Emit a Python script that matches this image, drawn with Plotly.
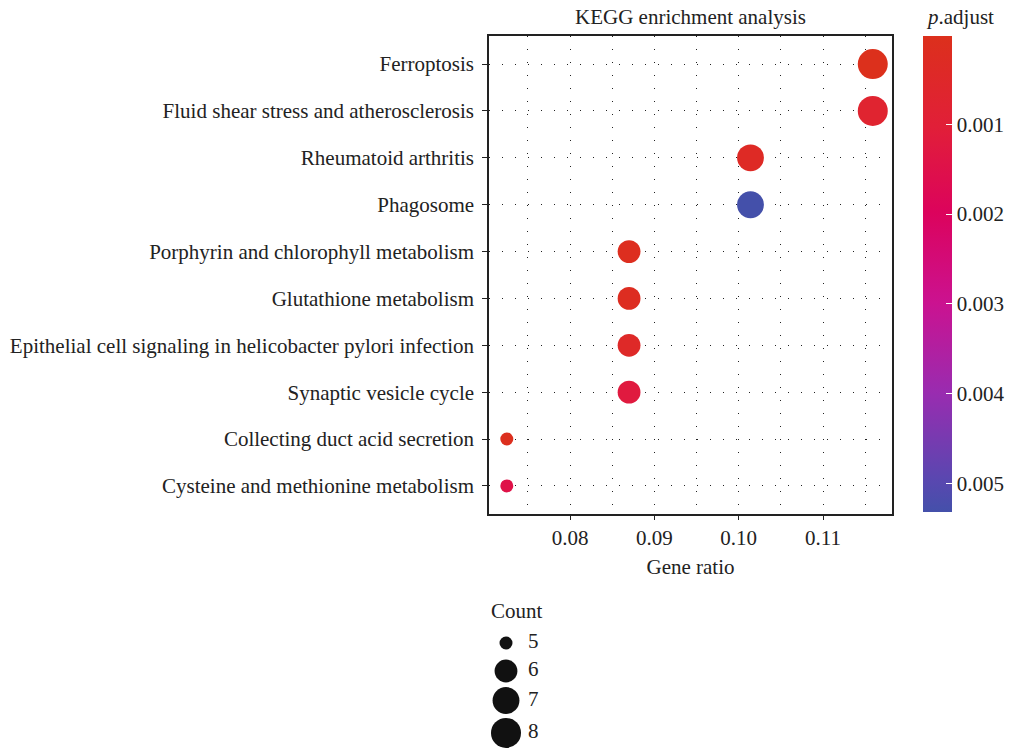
import numpy as np
import plotly.graph_objects as go

# KEGG pathway enrichment results
pathways = [
    "Ferroptosis",
    "Fluid shear stress and atherosclerosis",
    "Rheumatoid arthritis",
    "Phagosome",
    "Porphyrin and chlorophyll metabolism",
    "Glutathione metabolism",
    "Epithelial cell signaling in helicobacter pylori infection",
    "Synaptic vesicle cycle",
    "Collecting duct acid secretion",
    "Cysteine and methionine metabolism",
]
gene_count = [8, 8, 7, 7, 6, 6, 6, 6, 5, 5]
gene_ratio = [0.1159, 0.1159, 0.1014, 0.1014, 0.0870, 0.0870, 0.0870, 0.0870, 0.0725, 0.0725]
p_adjust = [0.000015, 0.00075, 0.00035, 0.00532, 0.00012, 0.00020, 0.00045, 0.00120, 0.00010, 0.00145]

count_levels = [5, 6, 7, 8]
x_ticks = [0.08, 0.09, 0.10, 0.11]
cbar_ticks = [0.001, 0.002, 0.003, 0.004, 0.005]

W, H = 1011, 752
FONT = "Liberation Serif"
FS = 21
INK = "#222222"

# area-style size scale (diameter in px)
D_MIN, D_MAX = 13.0, 30.0
c_lo, c_hi = min(count_levels), max(count_levels)


def diam(c):
    return D_MIN + (D_MAX - D_MIN) * np.sqrt((c - c_lo) / (c_hi - c_lo))


# small p-values are red, large ones blue; the colour bar runs with the
# smallest value at the top, so colours are keyed on the negated p-value
colorscale = [
    [0.00, "#4450AA"],
    [0.07, "#5A47B0"],
    [0.25, "#992CB0"],
    [0.44, "#CB1290"],
    [0.63, "#DC035C"],
    [0.81, "#E11F38"],
    [1.00, "#DC301C"],
]
neg_p = [-v for v in p_adjust]

# panel placement in pixels
px_l, px_r, px_t, px_b = 489, 892, 36, 514

fig = go.Figure()

fig.add_trace(go.Scatter(
    x=gene_ratio,
    y=pathways,
    mode="markers",
    marker=dict(
        size=[diam(c) for c in gene_count],
        sizemode="diameter",
        color=neg_p,
        colorscale=colorscale,
        cmin=min(neg_p),
        cmax=max(neg_p),
        line=dict(width=0),
        opacity=1,
        colorbar=dict(
            x=923 / W, xanchor="left",
            y=1 - px_t / H, yanchor="top",
            len=(512 - px_t) / H, lenmode="fraction",
            thickness=29,
            outlinewidth=0,
            tickvals=[-v for v in cbar_ticks],
            ticktext=[f"{v:.3f}" for v in cbar_ticks],
            ticks="inside", ticklen=6, tickcolor="white", tickwidth=1.2,
            tickfont=dict(family=FONT, size=FS, color=INK),
            ypad=0, xpad=0,
        ),
    ),
    showlegend=False,
    hoverinfo="skip",
    xaxis="x", yaxis="y",
))

# size guide drawn in its own pixel-scaled axes
key_h = [max(28.0, diam(c) + 4.0) for c in count_levels]
key_y = [643.0]
for i in range(1, len(count_levels)):
    key_y.append(key_y[-1] + (key_h[i - 1] + key_h[i]) / 2)

fig.add_trace(go.Scatter(
    x=[506] * len(count_levels), y=key_y, mode="markers",
    marker=dict(size=[diam(c) for c in count_levels], color="#111111",
                opacity=1, line=dict(width=0)),
    showlegend=False, hoverinfo="skip", xaxis="x2", yaxis="y2",
))
fig.add_trace(go.Scatter(
    x=[528] * len(count_levels), y=key_y, mode="text",
    text=[str(c) for c in count_levels], textposition="middle right",
    textfont=dict(family=FONT, size=FS, color=INK),
    showlegend=False, hoverinfo="skip", xaxis="x2", yaxis="y2",
))

grid_dash = "1px,12px"

fig.update_layout(
    width=W, height=H,
    margin=dict(l=0, r=0, t=0, b=0),
    paper_bgcolor="white", plot_bgcolor="white",
    font=dict(family=FONT, size=FS, color=INK),
    title=dict(text="KEGG enrichment analysis", x=(px_l + px_r) / 2 / W, xanchor="center",
               y=1 - 17 / H, yanchor="middle", font=dict(family=FONT, size=FS, color=INK)),
    xaxis=dict(
        domain=[px_l / W, px_r / W],
        range=[0.07039, 0.11818],
        tickvals=x_ticks,
        ticktext=[f"{v:.2f}" for v in x_ticks],
        ticks="outside", ticklen=4, tickcolor=INK, tickwidth=1,
        showline=True, linecolor=INK, linewidth=1.5, mirror=True,
        showgrid=True, gridcolor="#222222", gridwidth=1.2, griddash=grid_dash,
        minor=dict(dtick=0.005, tick0=0.075, showgrid=True, gridcolor="#222222",
                   gridwidth=1.2, griddash=grid_dash, ticks=""),
        zeroline=False,
        title=dict(text="Gene ratio", standoff=10, font=dict(family=FONT, size=FS, color=INK)),
        tickfont=dict(family=FONT, size=FS, color=INK),
        anchor="y",
    ),
    yaxis=dict(
        domain=[1 - px_b / H, 1 - px_t / H],
        type="category",
        categoryorder="array", categoryarray=pathways,
        range=[len(pathways) - 1 + 0.6, -0.6],
        ticks="outside", ticklen=5, tickcolor=INK, tickwidth=1,
        ticklabelstandoff=4,
        showline=True, linecolor=INK, linewidth=1.5, mirror=True,
        showgrid=True, gridcolor="#222222", gridwidth=1.2, griddash=grid_dash,
        zeroline=False,
        tickfont=dict(family=FONT, size=FS, color=INK),
        anchor="x",
    ),
    xaxis2=dict(domain=[470 / W, 600 / W], range=[470, 600], visible=False, anchor="y2"),
    yaxis2=dict(domain=[0, 1 - 590 / H], range=[H, 590], visible=False, anchor="x2"),
    annotations=[
        dict(text="Count", x=489, y=611, xref="x2", yref="y2",
             xanchor="left", yanchor="middle", showarrow=False,
             font=dict(family=FONT, size=FS, color=INK)),
        dict(text="<i>p</i>.adjust", x=924 / W, y=1 - 17 / H, xref="paper", yref="paper",
             xanchor="left", yanchor="middle", showarrow=False,
             font=dict(family=FONT, size=FS, color=INK)),
    ],
)

fig.write_html("out.html")
